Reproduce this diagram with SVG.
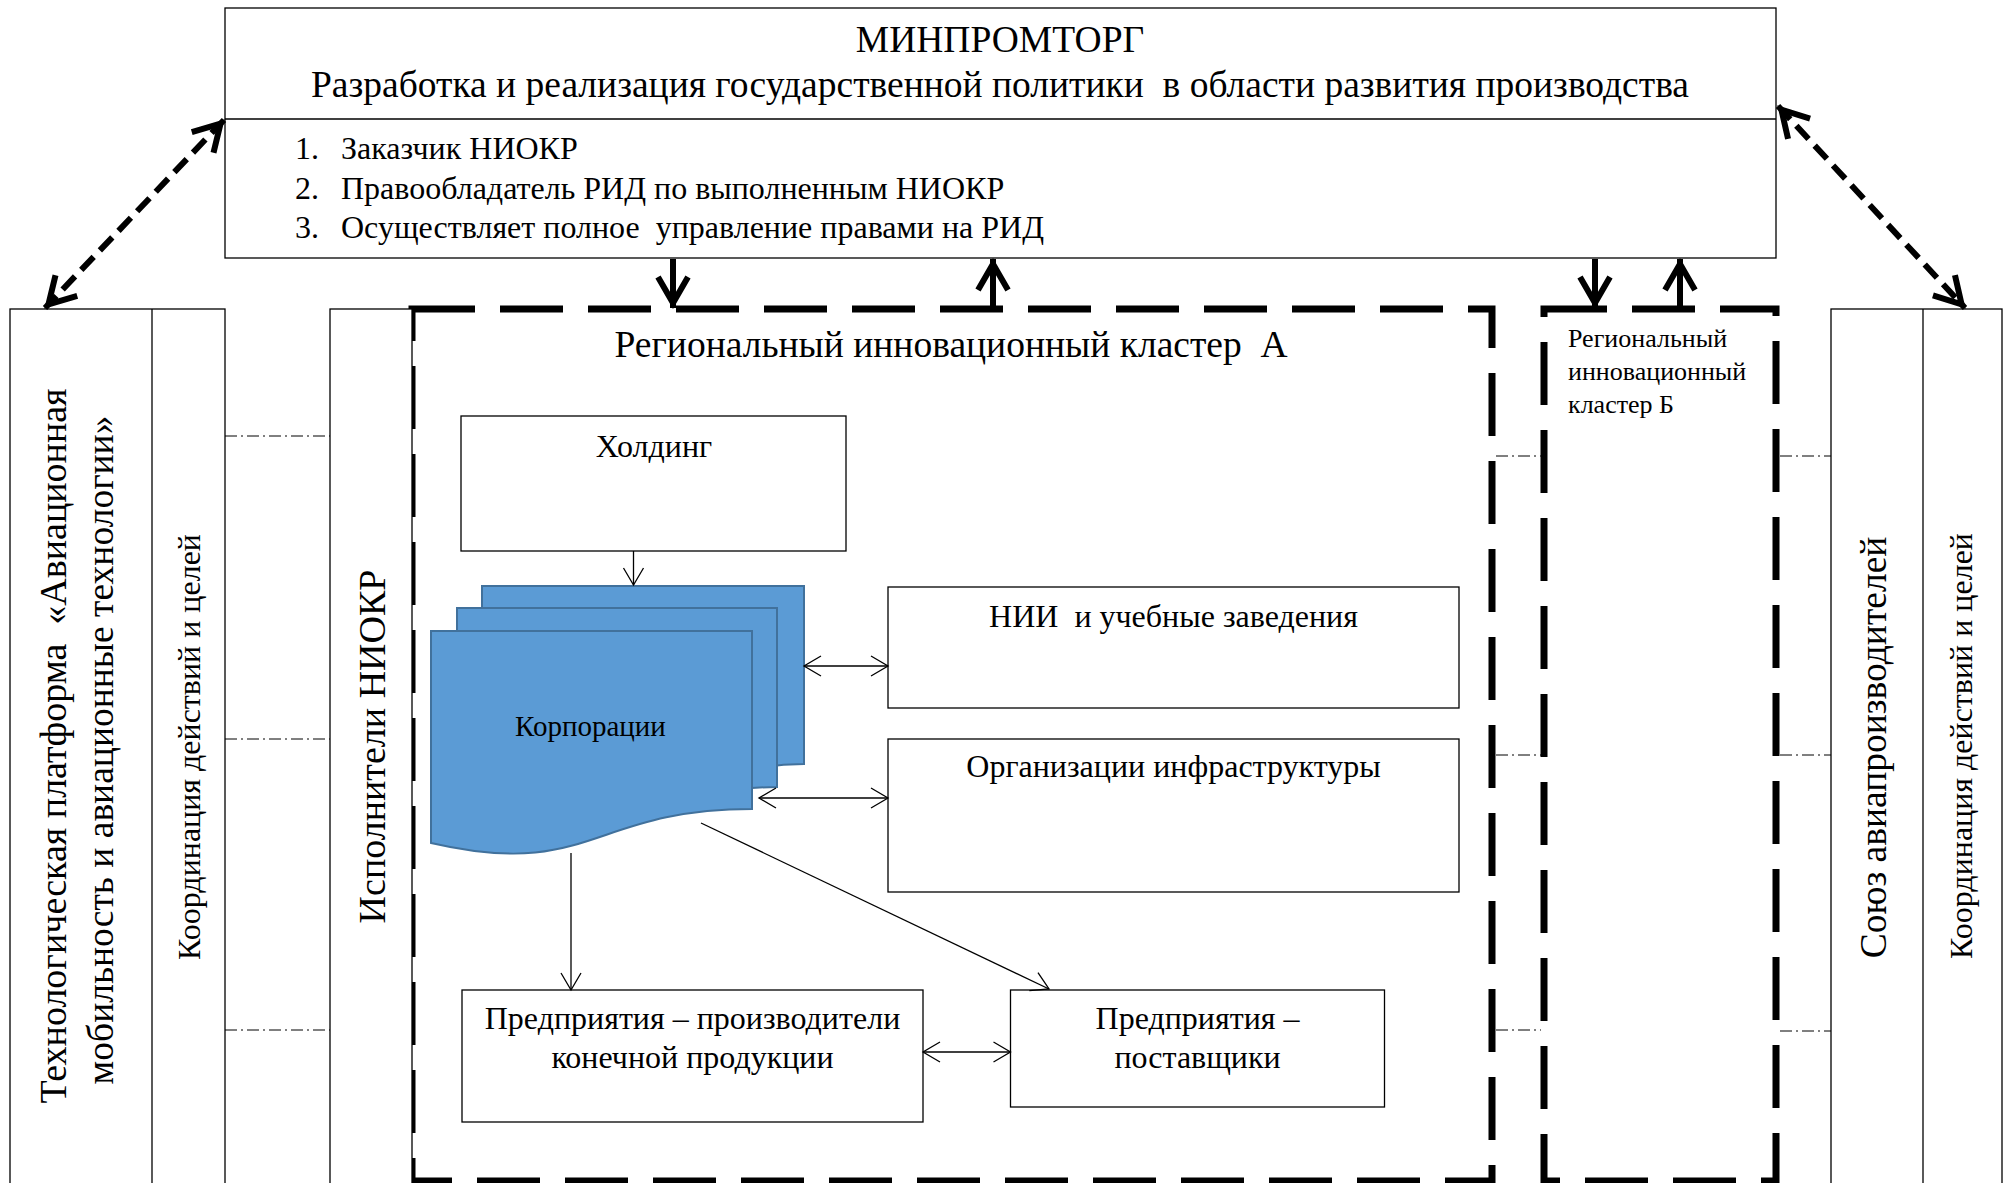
<svg xmlns="http://www.w3.org/2000/svg" width="2004" height="1183" viewBox="0 0 2004 1183">
<style>
text{font-family:"Liberation Serif","Times New Roman",serif;fill:#000}
.box{fill:#fff;stroke:#000;stroke-width:1.3}
.clu{fill:none;stroke:#000;stroke-width:7;stroke-dasharray:63 25}
.dd{fill:none;stroke:#000;stroke-width:1;stroke-dasharray:12 4 2 4}
.thin{fill:none;stroke:#000;stroke-width:1.3}
.thick{fill:none;stroke:#000;stroke-width:6}
.dashar{fill:none;stroke:#000;stroke-width:6;stroke-dasharray:18 9}
.doc{fill:#5B9BD5;stroke:#41719C;stroke-width:2}
.f38{font-size:38px}
.f37{font-size:37.5px}
.f32{font-size:32px}
.f29{font-size:29px}
.f26{font-size:26px}
.mid{text-anchor:middle}
</style>
<defs>
<marker id="ahT" markerUnits="userSpaceOnUse" viewBox="-40 -30 50 60" markerWidth="50" markerHeight="60" refX="5" refY="0" orient="auto-start-reverse">
<path d="M-26,-15 L0,0 L-26,15" fill="none" stroke="#000" stroke-width="6" stroke-dasharray="none"/>
</marker>
<marker id="ahS" markerUnits="userSpaceOnUse" viewBox="-25 -15 30 30" markerWidth="30" markerHeight="30" refX="0" refY="0" orient="auto-start-reverse">
<path d="M-17,-10 L0,0 L-17,10" fill="none" stroke="#000" stroke-width="1.3"/>
</marker>
</defs>

<g id="minpromtorg">
<rect class="box" x="225" y="8" width="1551" height="250"/>
<line x1="225" y1="119" x2="1776" y2="119" stroke="#000" stroke-width="1.3"/>
<text class="f37 mid" x="1000" y="52">МИНПРОМТОРГ</text>
<text class="f37 mid" x="1000" y="97" xml:space="preserve">Разработка и реализация государственной политики  в области развития производства</text>
<text class="f32" x="295" y="159">1.</text>
<text class="f32" x="341" y="159">Заказчик НИОКР</text>
<text class="f32" x="295" y="199">2.</text>
<text class="f32" x="341" y="199">Правообладатель РИД по выполненным НИОКР</text>
<text class="f32" x="295" y="238">3.</text>
<text class="f32" x="341" y="238" xml:space="preserve">Осуществляет полное  управление правами на РИД</text>
</g>

<g id="platform">
<rect class="box" x="10" y="309" width="215" height="900"/>
<line x1="152" y1="309" x2="152" y2="1190" stroke="#000" stroke-width="1.3"/>
<text class="f38 mid" transform="translate(66,746) rotate(-90)" xml:space="preserve">Технологическая платформа  «Авиационная</text>
<text class="f37 mid" transform="translate(113,750) rotate(-90)">мобильность и авиационные технологии»</text>
<text class="f32 mid" transform="translate(200,747) rotate(-90)">Координация действий и целей</text>
</g>

<g id="clusterA">
<path class="clu" d="M412,309 H1492 V1181 H412 Z"/>
<text class="f37 mid" x="951" y="357" xml:space="preserve">Региональный инновационный кластер  А</text>
</g>

<g id="clusterB">
<path class="clu" d="M1544,309 H1776 V1181 H1544 Z"/>
<text class="f26" x="1568" y="347">Региональный</text>
<text class="f26" x="1568" y="380">инновационный</text>
<text class="f26" x="1568" y="413">кластер Б</text>
</g>

<g id="ispolniteli">
<rect class="box" x="330" y="309" width="82" height="900"/>
<text class="f38 mid" transform="translate(385,746.5) rotate(-90)">Исполнители НИОКР</text>
</g>

<g id="union">
<rect class="box" x="1831" y="309" width="171" height="900"/>
<line x1="1923" y1="309" x2="1923" y2="1190" stroke="#000" stroke-width="1.3"/>
<text class="f37 mid" transform="translate(1886,747.5) rotate(-90)">Союз авиапроизводителей</text>
<text class="f32 mid" transform="translate(1972,746) rotate(-90)">Координация действий и целей</text>
</g>

<g id="holding">
<rect class="box" x="461" y="416" width="385" height="135"/>
<text class="f32 mid" x="654" y="457">Холдинг</text>
</g>

<g id="corporations">
<path class="doc" d="M482,586 H804 V764 C720,764 700,800 482,790 Z"/>
<path class="doc" d="M457,608 H777 V787 C700,787 680,815 457,812 Z"/>
<path class="doc" d="M431,631 H752 V809 C591,809 591,880 431,843 Z"/>
<text class="f29" x="515" y="736">Корпорации</text>
</g>

<g id="nii">
<rect class="box" x="888" y="587" width="571" height="121"/>
<text class="f32 mid" x="1173.5" y="627" xml:space="preserve">НИИ  и учебные заведения</text>
</g>

<g id="infra">
<rect class="box" x="888" y="739" width="571" height="153"/>
<text class="f32 mid" x="1173.5" y="777">Организации инфраструктуры</text>
</g>

<g id="producers">
<rect class="box" x="462" y="990" width="461" height="132"/>
<text class="f32 mid" x="692.5" y="1029">Предприятия – производители</text>
<text class="f32 mid" x="692.5" y="1068">конечной продукции</text>
</g>

<g id="suppliers">
<rect class="box" x="1010.5" y="990" width="374" height="117"/>
<text class="f32 mid" x="1197.5" y="1029">Предприятия –</text>
<text class="f32 mid" x="1197.5" y="1068">поставщики</text>
</g>

<g id="connectors">
<path class="dd" d="M225,436 H330 M225,739 H330 M225,1030 H330"/>
<path class="dd" d="M1496,456 H1541 M1496,755 H1541 M1496,1030 H1541"/>
<path class="dd" d="M1780,456 H1831 M1780,755 H1831 M1780,1031 H1831"/>
<path class="thick" d="M673,259 V308" marker-end="url(#ahT)"/>
<path class="thick" d="M993,308 V259" marker-end="url(#ahT)"/>
<path class="thick" d="M1595,259 V308" marker-end="url(#ahT)"/>
<path class="thick" d="M1680,308 V259" marker-end="url(#ahT)"/>
<path class="dashar" d="M224,120 L45,308" marker-start="url(#ahT)" marker-end="url(#ahT)"/>
<path class="dashar" d="M1778,106 L1965,308" marker-start="url(#ahT)" marker-end="url(#ahT)"/>
<path class="thin" d="M633.5,551 V585" marker-end="url(#ahS)"/>
<path class="thin" d="M804,666 H888" marker-start="url(#ahS)" marker-end="url(#ahS)"/>
<path class="thin" d="M759,798 H888" marker-start="url(#ahS)" marker-end="url(#ahS)"/>
<path class="thin" d="M571,853 V990" marker-end="url(#ahS)"/>
<path class="thin" d="M701,823 L1049,989" marker-end="url(#ahS)"/>
<path class="thin" d="M923,1052 H1010.5" marker-start="url(#ahS)" marker-end="url(#ahS)"/>
</g>
</svg>
